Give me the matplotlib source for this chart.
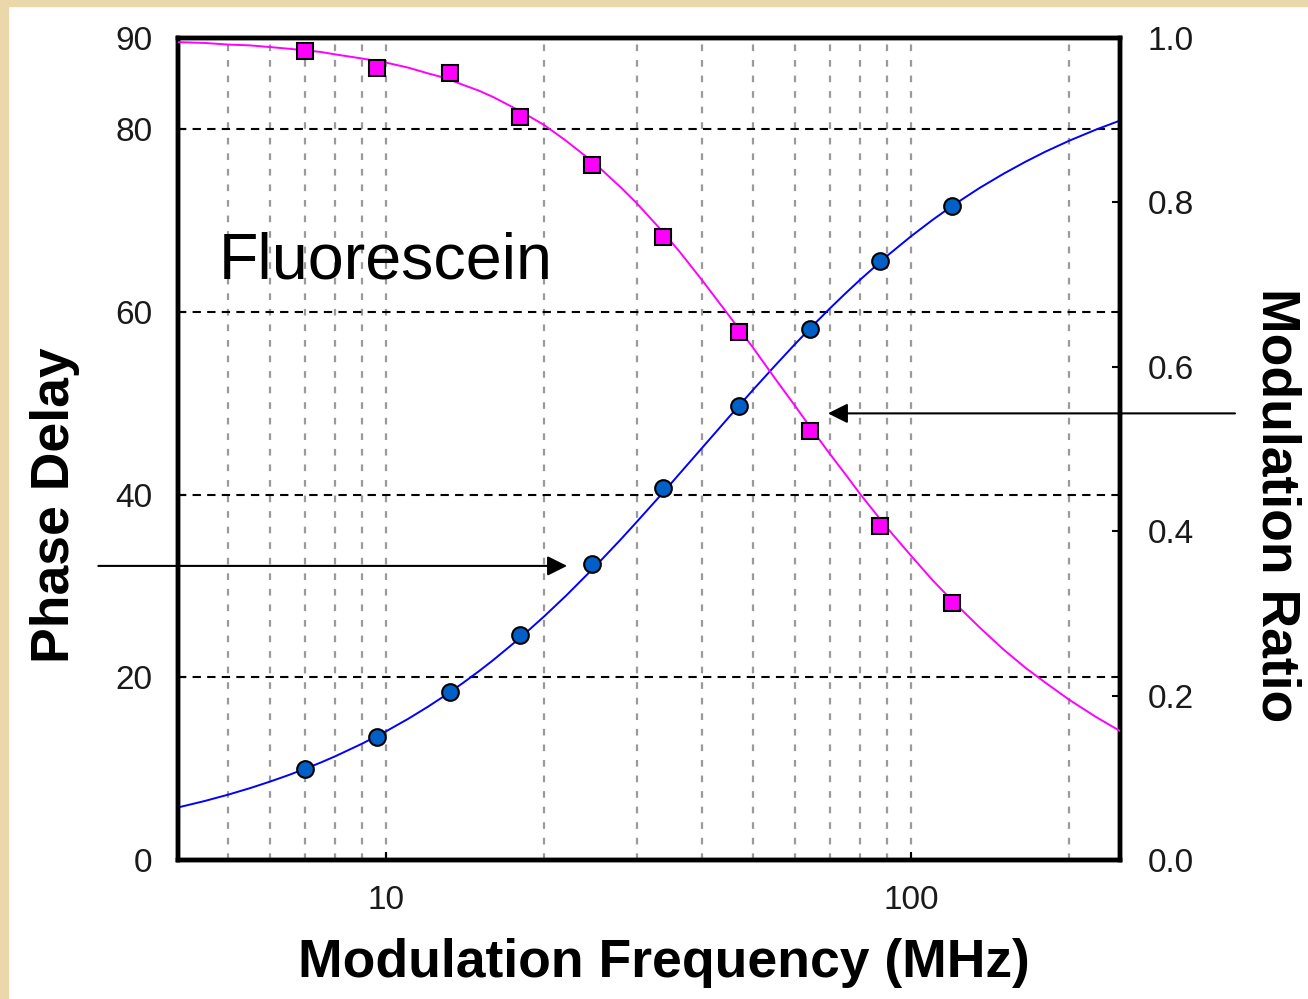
import numpy as np
import matplotlib
matplotlib.use("Agg")
import matplotlib.pyplot as plt
import matplotlib.ticker as mticker
import matplotlib.transforms as mtransforms
from matplotlib.patches import Rectangle

plt.rcParams['font.family'] = ['Liberation Sans', 'DejaVu Sans']

# measured points (frequency in MHz)
freq_pts = [7.0, 9.6, 13.2, 18.0, 24.7, 33.7, 46.9, 64.1, 87.3, 119.8]
phase_pts = [9.96, 13.5, 18.4, 24.6, 32.4, 40.7, 49.7, 58.1, 65.6, 71.6]
mod_pts = [0.984, 0.964, 0.958, 0.904, 0.845, 0.758, 0.642, 0.522, 0.406, 0.313]

# fitted curves
freq_fit = [4, 4.5, 5, 5.5, 6, 6.5, 7, 7.5, 8, 9, 10, 11, 12, 13, 14, 15, 16,
            18, 20, 22, 25, 28, 30, 33, 35, 36, 40, 45, 50, 55, 60, 65, 70, 75,
            80, 90, 100, 110, 120, 135, 150, 165, 180, 200, 225, 250]
phase_fit = [5.74, 6.45, 7.16, 7.87, 8.58, 9.28, 9.98, 10.67, 11.37, 12.75,
             14.11, 15.45, 16.78, 18.09, 19.39, 20.66, 21.91, 24.34, 26.69,
             28.94, 32.14, 35.13, 37.02, 39.67, 41.33, 42.14, 45.15, 48.52,
             51.49, 54.11, 56.45, 58.53, 60.39, 62.05, 63.55, 66.15, 68.30,
             70.11, 71.66, 73.58, 75.14, 76.44, 77.54, 78.75, 79.97, 80.96]
mod_fit = [0.995, 0.994, 0.992, 0.991, 0.989, 0.987, 0.985, 0.983, 0.980,
           0.975, 0.970, 0.964, 0.957, 0.951, 0.943, 0.936, 0.928, 0.911,
           0.894, 0.875, 0.847, 0.818, 0.799, 0.770, 0.751, 0.742, 0.705,
           0.662, 0.623, 0.586, 0.553, 0.522, 0.494, 0.469, 0.445, 0.404,
           0.370, 0.340, 0.315, 0.283, 0.256, 0.234, 0.216, 0.195, 0.174, 0.157]

phase_ticks = [0, 20, 40, 60, 80, 90]
mod_ticks = [0.0, 0.2, 0.4, 0.6, 0.8, 1.0]

W, H = 1308, 999
fig = plt.figure(figsize=(W / 100, H / 100), dpi=100)
fig.patch.set_facecolor('white')

# parchment edge along top and left
beige = '#EBD8AA'
fig.patches.append(Rectangle((0, 0), 8 / W, 1, transform=fig.transFigure,
                             color=beige, zorder=-10))
fig.patches.append(Rectangle((0, 1 - 6 / H), 1, 6 / H, transform=fig.transFigure,
                             color=beige, zorder=-10))

left, right, top, bottom = 177.5, 1120, 38, 860
ax = fig.add_axes([left / W, 1 - bottom / H, (right - left) / W, (bottom - top) / H])
ax2 = ax.twinx()

ax.set_xscale('log')
ax.set_xlim(4, 250)
ax.set_ylim(0, 90)
ax2.set_ylim(0, 1.0)

# grid
ax.grid(which='both', axis='x', color='#9a9a9a', linestyle=(0, (3, 4)), lw=1.6)
ax.grid(which='major', axis='y', color='black', linestyle=(0, (4, 3)), lw=1.5)
ax.set_axisbelow(True)

tick_font = dict(fontsize=24, color='#1a1a1a')
ax.set_yticks(phase_ticks)
ax.set_yticklabels([str(t) for t in phase_ticks], **tick_font)
ax.xaxis.set_major_locator(mticker.FixedLocator([10, 100]))
ax.xaxis.set_major_formatter(mticker.FixedFormatter(['10', '100']))
ax.xaxis.set_minor_locator(mticker.LogLocator(base=10, subs=np.arange(2, 10)))
ax.xaxis.set_minor_formatter(mticker.NullFormatter())
for lab in ax.get_xticklabels():
    lab.set_fontsize(24)
    lab.set_color('#1a1a1a')
ax.tick_params(axis='both', which='major', direction='in', length=6, width=1.5, pad=18)
ax.tick_params(axis='x', which='minor', length=0)

ax2.set_yticks(mod_ticks)
ax2.set_yticklabels([f"{t:.1f}" for t in mod_ticks], **tick_font)
ax2.tick_params(axis='y', direction='in', length=6, width=1.5, pad=20)

for a in (ax, ax2):
    for s in a.spines.values():
        s.set_linewidth(3.2)
        s.set_color('black')
ax2.patch.set_visible(False)

# phase delay
ax.plot(freq_fit, phase_fit, color='#0000FF', lw=1.4, zorder=3)
ax.plot(freq_pts, phase_pts, linestyle='none', marker='o', markersize=12,
        markerfacecolor='#0060C8', markeredgecolor='black', markeredgewidth=1.5,
        zorder=4)

# modulation ratio
ax2.plot(freq_fit, mod_fit, color='#FF00FF', lw=1.4, zorder=3)
ax2.plot(freq_pts, mod_pts, linestyle='none', marker='s', markersize=12,
         markerfacecolor='#FF00FF', markeredgecolor='black', markeredgewidth=1.5,
         zorder=4)

ax.text(0.0435, 0.707, 'Fluorescein', transform=ax.transAxes, fontsize=46.5,
        ha='left', va='baseline', color='black')

# arrows pointing at each curve from outside the frame
blend = mtransforms.blended_transform_factory(ax.transAxes, ax.transData)
arrow = dict(arrowstyle='-|>', color='black', lw=1.5, mutation_scale=30,
             shrinkA=0, shrinkB=0)
ax.annotate('', xy=(22.1, 32.2), xycoords='data', xytext=(-0.084, 32.2),
            textcoords=blend, arrowprops=arrow, annotation_clip=False)
ax.annotate('', xy=(69.4, 48.9), xycoords='data', xytext=(1.122, 48.9),
            textcoords=blend, arrowprops=arrow, annotation_clip=False)

label_font = dict(fontsize=38.5, fontweight='bold', color='black')
fig.text(664 / W, 1 - 963 / H, 'Modulation Frequency (MHz)', ha='center',
         va='center', **label_font)
fig.text(55 / W, 1 - 505 / H, 'Phase Delay', rotation=90, ha='center',
         va='center', **label_font)
fig.text(1277 / W, 1 - 505 / H, 'Modulation Ratio', rotation=-90, ha='center',
         va='center', **label_font)

fig.savefig('out.png', dpi=100, facecolor=fig.get_facecolor())
